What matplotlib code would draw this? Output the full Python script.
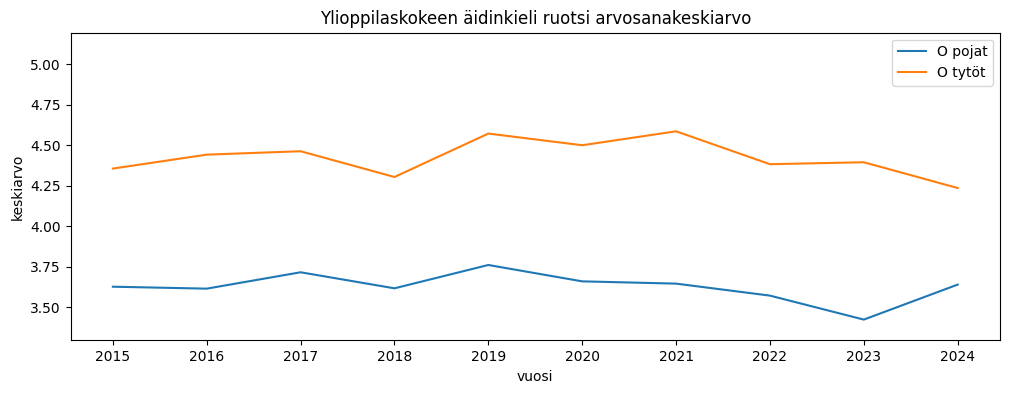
import matplotlib
matplotlib.use("Agg")
import matplotlib.pyplot as plt

vuodet = [2015, 2016, 2017, 2018, 2019, 2020, 2021, 2022, 2023, 2024]
pojat = [3.627, 3.615, 3.716, 3.617, 3.761, 3.660, 3.646, 3.572, 3.424, 3.640]
tytot = [4.356, 4.442, 4.463, 4.304, 4.572, 4.500, 4.586, 4.383, 4.395, 4.236]

fig = plt.figure(figsize=(10.09, 3.93), dpi=100)
ax = fig.add_axes([0.070, 0.134, 0.921, 0.783])

ax.plot(vuodet, pojat, label='O pojat')
ax.plot(vuodet, tytot, label='O tytöt')

ax.set_xticks(vuodet)
ax.set_ylim(3.296, 5.195)
ax.set_title('Ylioppilaskokeen äidinkieli ruotsi arvosanakeskiarvo')
ax.set_xlabel('vuosi')
ax.set_ylabel('keskiarvo')
ax.legend(loc='upper right')

fig.savefig('out.png', dpi=100)
